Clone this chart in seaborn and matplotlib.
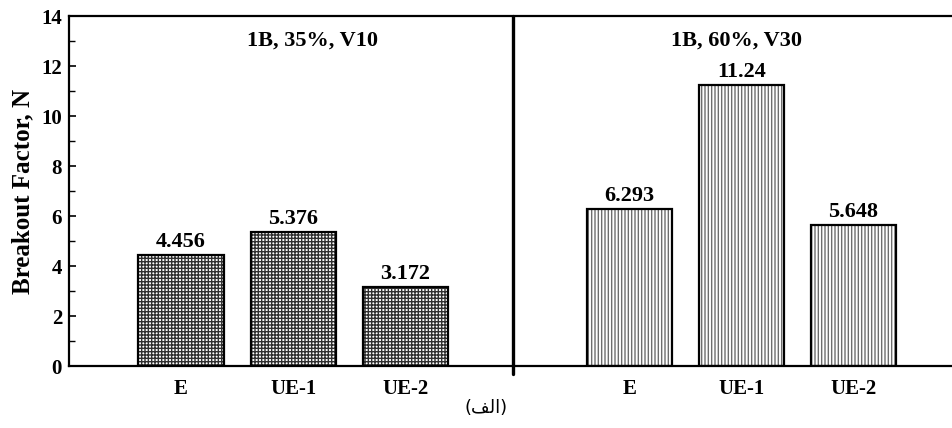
import numpy as np
import pandas as pd
import matplotlib
matplotlib.use("Agg")
import matplotlib.pyplot as plt
import seaborn as sns

# =========================
# data
# =========================
categories = ["E", "UE-1", "UE-2"]
cond_titles = ["1B, 35%, V10", "1B, 60%, V30"]
values_35 = [4.456, 5.376, 3.172]
values_60 = [6.293, 11.24, 5.648]
value_text_35 = ["4.456", "5.376", "3.172"]
value_text_60 = ["6.293", "11.24", "5.648"]
y_label = "Breakout Factor, N"
caption = "(" + "\ufed2\ufedf\ufe8d" + ")"   # الف in visual order (presentation forms)

sns.set_style("ticks")
plt.rcParams["font.family"] = ["Liberation Serif", "DejaVu Serif"]
plt.rcParams["font.weight"] = "bold"
plt.rcParams["axes.linewidth"] = 1.6
plt.rcParams["hatch.linewidth"] = 1.0
for k in ["text.color", "axes.labelcolor", "xtick.color", "ytick.color", "axes.edgecolor"]:
    plt.rcParams[k] = "black"

# build table: group 0 at 1..3, group 1 at 5..7
rows = []
for g, (vals, txt) in enumerate([(values_35, value_text_35), (values_60, value_text_60)]):
    for i, (c, v, t) in enumerate(zip(categories, vals, txt)):
        rows.append({"pos": g * 4 + i + 1, "value": v, "cat": c, "txt": t, "group": g})
df = pd.DataFrame(rows)

fig = plt.figure(figsize=(9.52, 4.28), dpi=100)
ax = fig.add_axes([69 / 952, 1 - 366 / 428, 1 - 69 / 952, 350 / 428])

# hatched fills
sns.barplot(data=df, x="pos", y="value", native_scale=True, width=0.76,
            errorbar=None, color="white", ax=ax)
hatch_styles = [("+++++", "#303030"), ("|||||", "#6e6e6e")]
for p, g in zip(ax.patches, df["group"]):
    h, hc = hatch_styles[g]
    p.set_facecolor("white")
    p.set_edgecolor(hc)
    p.set_hatch(h)
    p.set_linewidth(0)

# outlines
n_before = len(ax.patches)
sns.barplot(data=df, x="pos", y="value", native_scale=True, width=0.76,
            errorbar=None, color="white", ax=ax)
for p in ax.patches[n_before:]:
    p.set_facecolor("none")
    p.set_edgecolor("black")
    p.set_linewidth(1.6)

ax.bar_label(ax.containers[-1], labels=df["txt"].tolist(), padding=2,
             fontsize=16, fontweight="bold")

# group titles
for g, title in enumerate(cond_titles):
    gx = df.loc[df["group"] == g, "pos"].mean()
    ax.text(gx + (0.17 if g == 0 else -0.04), 13.0, title, ha="center", va="center",
            fontsize=16, fontweight="bold")

# divider between the two conditions
ax.axvline(3.96, ymin=-0.023, ymax=1, color="black", lw=2.4, clip_on=False)

ax.set_xlim(0, 7.88)
ax.set_ylim(0, 14)
ax.set_yticks(np.arange(0, 15, 2))
ax.set_yticks(np.arange(1, 14, 2), minor=True)
ax.set_xticks(df["pos"])
ax.set_xticklabels(df["cat"])
ax.tick_params(axis="y", which="both", direction="in", labelsize=15, pad=5)
ax.tick_params(axis="y", which="major", length=5, width=1.2)
ax.tick_params(axis="y", which="minor", length=4, width=1.0)
ax.tick_params(axis="x", length=0, labelsize=15, pad=9)
for lab in ax.get_xticklabels() + ax.get_yticklabels():
    lab.set_fontweight("bold")
ax.set_xlabel("")
ax.set_ylabel(y_label, fontsize=18, fontweight="bold", labelpad=5)
ax.spines["right"].set_visible(False)

fig.text(486 / 952, 1 - 408 / 428, caption, ha="center", va="center",
         fontsize=13, family=["DejaVu Sans"], fontweight="normal")

fig.savefig("out.png", dpi=100)
